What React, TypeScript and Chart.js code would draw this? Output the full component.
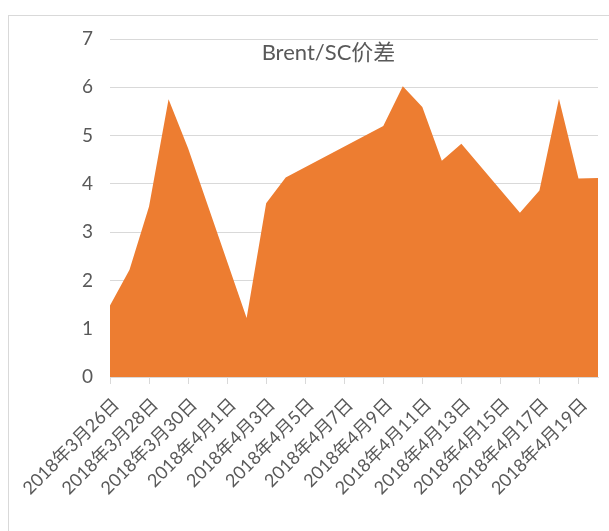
import React, { useEffect, useRef } from "react";
import { Chart, registerables } from "chart.js";

Chart.register(...registerables);

const dates: string[] = [
  "2018年3月26日", "2018年3月27日", "2018年3月28日", "2018年3月29日", "2018年3月30日",
  "2018年3月31日", "2018年4月1日", "2018年4月2日", "2018年4月3日", "2018年4月4日",
  "2018年4月5日", "2018年4月6日", "2018年4月7日", "2018年4月8日", "2018年4月9日",
  "2018年4月10日", "2018年4月11日", "2018年4月12日", "2018年4月13日", "2018年4月14日",
  "2018年4月15日", "2018年4月16日", "2018年4月17日", "2018年4月18日", "2018年4月19日",
  "2018年4月20日",
];

const spread: (number | null)[] = [
  1.48, 2.22, 3.53, 5.75, 4.74,
  null, null, 1.22, 3.6, 4.13,
  null, null, null, null, 5.2,
  6.02, 5.59, 4.48, 4.83, null,
  null, 3.4, 3.86, 5.76, 4.11,
  4.12,
];

const yTicks: number[] = [0, 1, 2, 3, 4, 5, 6, 7];
const title = "Brent/SC价差";

const FONT = "Lato, 'Noto Sans CJK SC', sans-serif";
const TEXT = "#595959";
const GRID = "#d9d9d9";

export default function App() {
  const ref = useRef<HTMLCanvasElement | null>(null);

  useEffect(() => {
    if (!ref.current) return;
    const titlePlugin = {
      id: "innerTitle",
      afterDraw(chart: any) {
        const ctx = chart.ctx;
        ctx.save();
        ctx.font = `22px ${FONT}`;
        ctx.fillStyle = TEXT;
        ctx.textAlign = "center";
        ctx.textBaseline = "alphabetic";
        ctx.fillText(title, 319.5, 44);
        ctx.restore();
      },
    };
    const chart = new Chart(ref.current, {
      type: "line",
      data: {
        datasets: [
          {
            label: title,
            data: spread
              .map((v, i) => ({ x: i, y: v }))
              .filter((p) => p.y !== null) as any,
            backgroundColor: "#ED7D31",
            borderColor: "#ED7D31",
            borderWidth: 0,
            pointRadius: 0,
            tension: 0,
            fill: "origin",
          },
        ],
      },
      options: {
        animation: false,
        responsive: false,
        maintainAspectRatio: false,
        layout: { autoPadding: false, padding: { top: 23, right: 11, bottom: 0, left: 0 } },
        plugins: {
          legend: { display: false },
          title: { display: false },
          tooltip: { enabled: false },
        },
        scales: {
          x: {
            type: "linear",
            min: 0,
            max: dates.length - 1,
            grid: {
              drawOnChartArea: false,
              drawTicks: true,
              tickLength: 7,
              color: GRID,
            },
            border: { color: GRID, width: 1 },
            ticks: {
              stepSize: 2,
              includeBounds: false,
              autoSkip: false,
              maxRotation: 45,
              minRotation: 45,
              padding: 10,
              labelOffset: 6,
              color: TEXT,
              font: { family: FONT, size: 18 },
              callback: (v: any) => dates[v as number] ?? "",
            },
            afterFit: (s: any) => {
              s.height = 154;
            },
          },
          y: {
            min: 0,
            max: 7,
            afterBuildTicks: (s: any) => {
              s.ticks = yTicks.map((v) => ({ value: v }));
            },
            grid: { color: GRID, lineWidth: 1, drawTicks: false },
            border: { display: false },
            ticks: {
              padding: 17,
              color: TEXT,
              font: { family: FONT, size: 19 },
            },
            afterFit: (s: any) => {
              s.width = 101;
              s.paddingTop = 0;
              s.paddingBottom = 0;
            },
          },
        },
      },
      plugins: [titlePlugin],
    });
    return () => chart.destroy();
  }, []);

  return (
    <div
      style={{
        position: "absolute",
        left: 8,
        top: 15,
        width: 601,
        height: 516,
        borderTop: `1px solid ${GRID}`,
        borderLeft: `1px solid ${GRID}`,
        boxSizing: "border-box",
        background: "#fff",
      }}
    >
      <canvas ref={ref} width={600} height={515} style={{ display: "block" }} />
    </div>
  );
}
